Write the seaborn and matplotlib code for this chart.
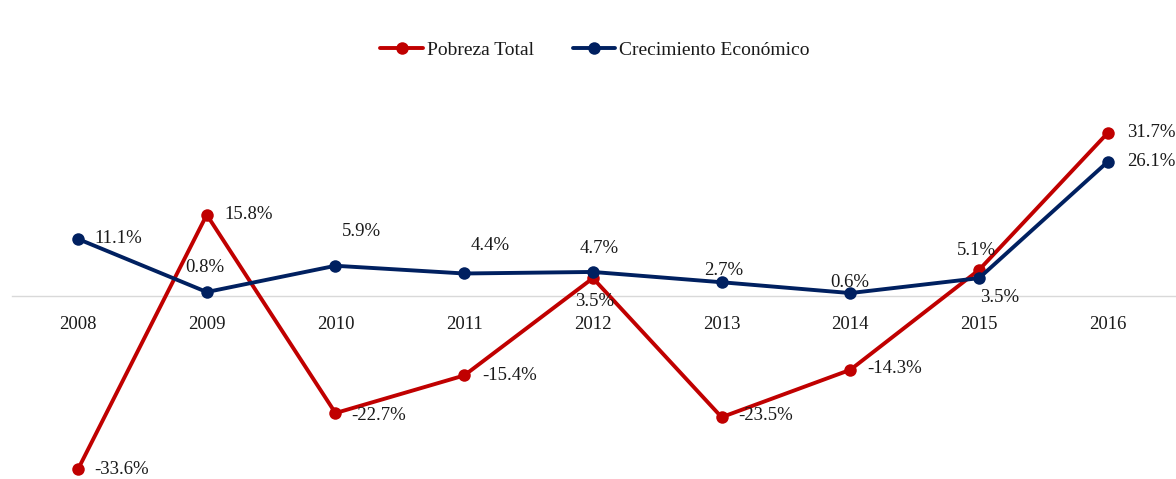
import numpy as np
import pandas as pd
import matplotlib
matplotlib.use("Agg")
import matplotlib.pyplot as plt
import seaborn as sns

# data
years = [2008, 2009, 2010, 2011, 2012, 2013, 2014, 2015, 2016]
pobreza = [-33.6, 15.8, -22.7, -15.4, 3.5, -23.5, -14.3, 5.1, 31.7]
crecimiento = [11.1, 0.8, 5.9, 4.4, 4.7, 2.7, 0.6, 3.5, 26.1]
series_names = ["Pobreza Total", "Crecimiento Económico"]

# label placement (pixel offsets from the point, positive dy = up, alignment)
pob_offsets = [(16, 0, "left"), (18, 0, "left"), (16, -2, "left"), (18, 0, "left"),
               (2, -23, "center"), (17, 2, "left"), (17, 1, "left"), (-3, 19, "center"),
               (19, 0, "left")]
cre_offsets = [(16, 0, "left"), (-2, 25, "center"), (26, 34, "center"), (26, 28, "center"),
               (6, 23, "center"), (2, 12, "center"), (-1, 11, "center"), (21, -19, "center"),
               (19, 0, "left")]

df = pd.DataFrame({
    "Año": years * 2,
    "Valor": pobreza + crecimiento,
    "Serie": [series_names[0]] * len(years) + [series_names[1]] * len(years),
})

sns.set_style("white")
plt.rcParams["font.family"] = ["Liberation Serif", "DejaVu Serif"]

red = "#C00000"
blue = "#002060"

fig = plt.figure(figsize=(11.76, 4.79), dpi=100)
ax = fig.add_axes([12 / 1176, 0, 1 - 12 / 1176, 1])

sns.lineplot(data=df, x="Año", y="Valor", hue="Serie", palette=[red, blue],
             marker="o", markersize=9, markeredgewidth=0, linewidth=2.8, ax=ax)

ax.set_xlim(years[0] - 0.513, years[-1] + 0.53)
ax.set_ylim(-35.5, 57.5)

for s in ["top", "right", "left"]:
    ax.spines[s].set_visible(False)
ax.spines["bottom"].set_position(("data", 0))
ax.spines["bottom"].set_color("#d9d9d9")
ax.spines["bottom"].set_linewidth(1.0)
ax.spines["bottom"].set_zorder(0)
ax.set_xticks(years)
ax.set_xticklabels([str(y) for y in years])
ax.tick_params(axis="x", length=0, pad=14, labelsize=13.5, labelcolor="#1a1a1a")
ax.set_yticks([])
ax.set_xlabel("")
ax.set_ylabel("")

for vals, offs in [(pobreza, pob_offsets), (crecimiento, cre_offsets)]:
    for x, v, (dx, dy, ha) in zip(years, vals, offs):
        ax.annotate(f"{v:.1f}%", (x, v), xytext=(dx, dy), textcoords="offset pixels",
                    ha=ha, va="center", fontsize=13.5, color="#1a1a1a")

handles, labels = ax.get_legend_handles_labels()
leg = ax.legend(handles, labels, loc="center", bbox_to_anchor=(595 / 1176, 1 - 50 / 479),
                bbox_transform=fig.transFigure, ncol=2, frameon=False, fontsize=14,
                handlelength=2.2, handletextpad=0.2, columnspacing=2.0)
for t in leg.get_texts():
    t.set_color("#1a1a1a")

fig.savefig("out.png", dpi=100)
